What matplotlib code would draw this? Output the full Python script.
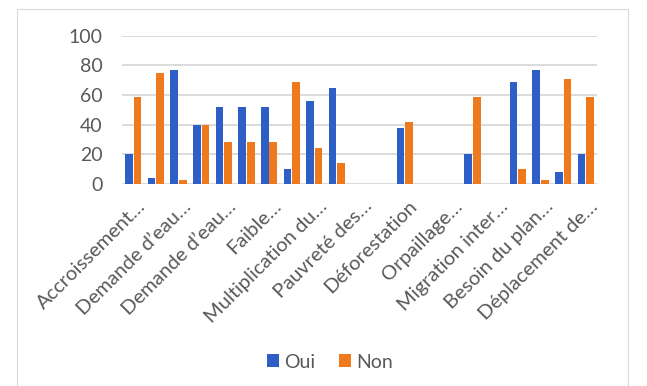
import matplotlib.pyplot as plt
import matplotlib.transforms as mtransforms
import numpy as np
from matplotlib.patches import Rectangle

# données (21 catégories, une étiquette sur deux affichée)
labels = ['Accroissement…', 'Demande d’eau…', 'Demande d’eau…', 'Faible…',
          'Multiplication du…', 'Pauvreté des…', 'Déforestation', 'Orpaillage…',
          'Migration inter…', 'Besoin du plan…', 'Déplacement de…']
oui = [20, 4, 77, 40, 52, 52, 52, 10, 56, 65, 0, 0, 38, 0, 0, 20, 0, 69, 77, 8, 20]
non = [59, 75, 3, 40, 28, 28, 28, 69, 24, 14, 0, 0, 42, 0, 0, 59, 0, 10, 3, 71, 59]
yticks = [0, 20, 40, 60, 80, 100]

plt.rcParams['font.family'] = ['Lato', 'DejaVu Sans']

fig = plt.figure(figsize=(6.47, 3.86), dpi=100)
ax = fig.add_axes([0.1886, 0.5233, 0.7341, 0.3842])

x = np.arange(len(oui))
w = 0.34
ax.bar(x - 0.19, oui, w, color='#2d5fc6', label='Oui', zorder=3)
ax.bar(x + 0.19, non, w, color='#ef7a1d', label='Non', zorder=3)

ax.set_xlim(-0.5, len(oui) - 0.5)
ax.set_ylim(0, 100)
ax.set_yticks(yticks)
ax.set_xticks(x[::2])
ax.set_xticklabels(labels, rotation=45, ha='right', va='center',
                   rotation_mode='anchor', fontsize=14.5, color='#595959')
ax.tick_params(axis='y', labelsize=14, labelcolor='#595959', length=0, pad=14)
ax.tick_params(axis='x', length=0, pad=8)
# décalage des étiquettes comme dans Excel
offset = mtransforms.ScaledTranslation(7 / 72, -6 / 72, fig.dpi_scale_trans)
for lab in ax.get_xticklabels():
    lab.set_transform(lab.get_transform() + offset)
ax.grid(axis='y', color='#d9d9d9', linewidth=1.3, zorder=0)
for s in ax.spines.values():
    s.set_visible(False)

fig.legend(loc='center', bbox_to_anchor=(330 / 647, 1 - 362 / 386), ncol=2,
           frameon=False, fontsize=14, handlelength=0.6, handleheight=0.6,
           handletextpad=0.3, columnspacing=1.2, labelcolor='#595959')

# bordure du graphique
fig.patches.append(Rectangle((16.5 / 647, -0.01), (628 - 16.5) / 647, 1 - 9 / 386 + 0.01,
                             transform=fig.transFigure, fill=False,
                             edgecolor='#d9d9d9', linewidth=0.8))

plt.savefig('out.png', dpi=100)
